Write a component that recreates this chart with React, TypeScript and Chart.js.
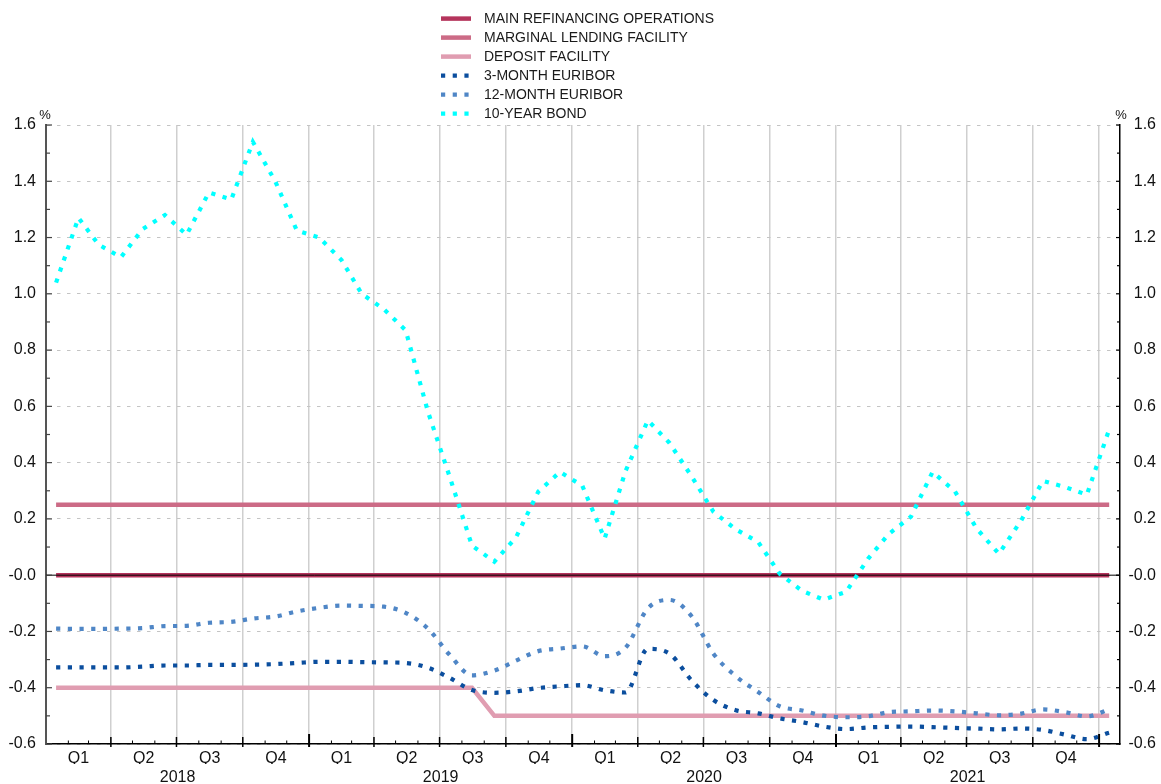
import React, { useEffect, useRef } from 'react';
import { Chart, registerables } from 'chart.js';

Chart.register(...registerables);

// ---------- DATA ----------
const MONTHS = [
  '2018-01', '2018-02', '2018-03', '2018-04', '2018-05', '2018-06', '2018-07', '2018-08', '2018-09', '2018-10', '2018-11', '2018-12',
  '2019-01', '2019-02', '2019-03', '2019-04', '2019-05', '2019-06', '2019-07', '2019-08', '2019-09', '2019-10', '2019-11', '2019-12',
  '2020-01', '2020-02', '2020-03', '2020-04', '2020-05', '2020-06', '2020-07', '2020-08', '2020-09', '2020-10', '2020-11', '2020-12',
  '2021-01', '2021-02', '2021-03', '2021-04', '2021-05', '2021-06', '2021-07', '2021-08', '2021-09', '2021-10', '2021-11', '2021-12',
  '2022-01',
];

const MAIN_REFINANCING = [
  0, 0, 0, 0, 0, 0, 0, 0, 0, 0, 0, 0,
  0, 0, 0, 0, 0, 0, 0, 0, 0, 0, 0, 0,
  0, 0, 0, 0, 0, 0, 0, 0, 0, 0, 0, 0,
  0, 0, 0, 0, 0, 0, 0, 0, 0, 0, 0, 0,
  0,
];

const MARGINAL_LENDING = [
  0.25, 0.25, 0.25, 0.25, 0.25, 0.25, 0.25, 0.25, 0.25, 0.25, 0.25, 0.25,
  0.25, 0.25, 0.25, 0.25, 0.25, 0.25, 0.25, 0.25, 0.25, 0.25, 0.25, 0.25,
  0.25, 0.25, 0.25, 0.25, 0.25, 0.25, 0.25, 0.25, 0.25, 0.25, 0.25, 0.25,
  0.25, 0.25, 0.25, 0.25, 0.25, 0.25, 0.25, 0.25, 0.25, 0.25, 0.25, 0.25,
  0.25,
];

const DEPOSIT_FACILITY = [
  -0.4, -0.4, -0.4, -0.4, -0.4, -0.4, -0.4, -0.4, -0.4, -0.4, -0.4, -0.4,
  -0.4, -0.4, -0.4, -0.4, -0.4, -0.4, -0.4, -0.4, -0.5, -0.5, -0.5, -0.5,
  -0.5, -0.5, -0.5, -0.5, -0.5, -0.5, -0.5, -0.5, -0.5, -0.5, -0.5, -0.5,
  -0.5, -0.5, -0.5, -0.5, -0.5, -0.5, -0.5, -0.5, -0.5, -0.5, -0.5, -0.5,
  -0.5,
];

const EURIBOR_3M = [
  -0.328, -0.328, -0.328, -0.328, -0.325, -0.321, -0.321, -0.319, -0.319, -0.318, -0.316, -0.312,
  -0.308, -0.308, -0.309, -0.31, -0.312, -0.329, -0.365, -0.408, -0.418, -0.413, -0.401, -0.395,
  -0.391, -0.409, -0.417, -0.262, -0.279, -0.375, -0.444, -0.48, -0.491, -0.509, -0.522, -0.538,
  -0.547, -0.541, -0.539, -0.538, -0.54, -0.543, -0.545, -0.548, -0.545, -0.55, -0.567, -0.583,
  -0.56,
];

const EURIBOR_12M = [
  -0.19, -0.191, -0.191, -0.19, -0.188, -0.181, -0.18, -0.169, -0.166, -0.154, -0.147, -0.129,
  -0.116, -0.108, -0.109, -0.112, -0.134, -0.19, -0.283, -0.356, -0.339, -0.304, -0.27, -0.261,
  -0.253, -0.288, -0.258, -0.118, -0.088, -0.147, -0.279, -0.359, -0.415, -0.466, -0.481, -0.499,
  -0.505, -0.501, -0.487, -0.484, -0.481, -0.484, -0.491, -0.498, -0.492, -0.477, -0.487, -0.502,
  -0.477,
];

const BOND_10Y = [
  1.04, 1.27, 1.175, 1.13, 1.23, 1.28, 1.21, 1.36, 1.335, 1.54, 1.4, 1.225,
  1.2, 1.12, 1.0, 0.945, 0.87, 0.58, 0.35, 0.105, 0.048, 0.134, 0.297, 0.367,
  0.318, 0.13, 0.37, 0.55, 0.47, 0.35, 0.225, 0.163, 0.118, 0.005, -0.056, -0.087,
  -0.059, 0.06, 0.146, 0.208, 0.367, 0.298, 0.166, 0.076, 0.195, 0.335, 0.313, 0.286,
  0.518,
];

const YEARS = ['2018', '2019', '2020', '2021'];
const QUARTERS = ['Q1', 'Q2', 'Q3', 'Q4'];

const SERIES = [
  { label: 'MAIN REFINANCING OPERATIONS', values: MAIN_REFINANCING, color: '#b5345c', dotted: false },
  { label: 'MARGINAL LENDING FACILITY', values: MARGINAL_LENDING, color: '#cc6b86', dotted: false },
  { label: 'DEPOSIT FACILITY', values: DEPOSIT_FACILITY, color: '#e09db1', dotted: false },
  { label: '3-MONTH EURIBOR', values: EURIBOR_3M, color: '#0b4e9e', dotted: true },
  { label: '12-MONTH EURIBOR', values: EURIBOR_12M, color: '#4f86c6', dotted: true },
  { label: '10-YEAR BOND', values: BOND_10Y, color: '#00ffff', dotted: true },
];

// ---------- HELPERS ----------
const DAY0 = Date.UTC(2018, 0, 1);
const dayOf = (y: number, m: number, d: number) => (Date.UTC(y, m, d) - DAY0) / 864e5;
const monthDay = (s: string) => {
  const [y, m] = s.split('-').map(Number);
  return dayOf(y, m - 1, 15);
};

const X_MIN = 0;
const X_MAX = 1490;
const FONT = '"Liberation Sans", Arial, Helvetica, sans-serif';
const DOTS = [4.2, 7.5];

const quarterBounds: number[] = [];
const quarterMids: number[] = [];
const quarterLabels: string[] = [];
const yearMids: number[] = [];
YEARS.forEach((ys) => {
  const y = Number(ys);
  for (let q = 0; q < 4; q++) {
    const s = dayOf(y, q * 3, 1);
    const e = dayOf(y, q * 3 + 3, 1);
    quarterBounds.push(e);
    quarterMids.push((s + e) / 2);
    quarterLabels.push(QUARTERS[q]);
  }
  yearMids.push((dayOf(y, 0, 1) + dayOf(y + 1, 0, 1)) / 2);
});

const fmtY = (v: number) => (Math.abs(v) < 1e-9 ? '-0.0' : v.toFixed(1));

const decorPlugin = {
  id: 'decor',
  afterDatasetDraw(chart: any, args: any) {
    if (args.index !== 0) return;
    const { ctx, chartArea } = chart;
    const py = chart.scales.y.getPixelForValue(0);
    ctx.save();
    ctx.strokeStyle = '#000';
    ctx.lineWidth = 1;
    ctx.beginPath();
    ctx.moveTo(chartArea.left, py);
    ctx.lineTo(chartArea.right, py);
    ctx.stroke();
    ctx.restore();
  },
  afterDraw(chart: any) {
    const { ctx, chartArea } = chart;
    const { left, right, top, bottom } = chartArea;
    const ys = chart.scales.y;
    const xs = chart.scales.x;
    ctx.save();
    // inner y ticks
    for (let k = -6; k <= 16; k++) {
      const py = ys.getPixelForValue(k / 10);
      const major = k % 2 === 0;
      ctx.strokeStyle = '#444';
      ctx.lineWidth = 1.2;
      ctx.beginPath();
      ctx.moveTo(left, py);
      ctx.lineTo(left + (major ? 6 : 4), py);
      ctx.stroke();
      ctx.strokeStyle = '#000';
      ctx.beginPath();
      ctx.moveTo(right, py);
      ctx.lineTo(right - (major ? 4 : 3), py);
      ctx.stroke();
    }
    // inner x ticks at months
    ctx.strokeStyle = '#000';
    YEARS.concat(['2022']).forEach((ysr) => {
      const y = Number(ysr);
      for (let m = 0; m < 12; m++) {
        if (y === 2018 && m === 0) continue;
        if (y === 2022 && m > 0) break;
        const px = xs.getPixelForValue(dayOf(y, m, 1));
        let len = 3.5;
        let w = 1;
        if (m === 0) { len = 10; w = 2; } else if (m % 3 === 0) { len = 7; w = 1.5; }
        ctx.lineWidth = w;
        ctx.beginPath();
        ctx.moveTo(px, bottom - len);
        ctx.lineTo(px, bottom + (m % 3 === 0 ? 3 : 0));
        ctx.stroke();
      }
    });
    // % labels
    ctx.fillStyle = '#111';
    ctx.font = `13px ${FONT}`;
    ctx.textAlign = 'center';
    ctx.textBaseline = 'middle';
    ctx.fillText('%', left - 1, top - 10);
    ctx.fillText('%', right + 1, top - 10);
    // legend
    const ds = chart.data.datasets;
    ds.forEach((d: any, i: number) => {
      const ry = 18.6 + 19 * i;
      ctx.save();
      ctx.strokeStyle = d.borderColor;
      ctx.lineWidth = d.borderWidth;
      ctx.lineCap = 'butt';
      ctx.setLineDash(d.borderDash || []);
      ctx.beginPath();
      ctx.moveTo(441, ry);
      ctx.lineTo(471, ry);
      ctx.stroke();
      ctx.restore();
      ctx.fillStyle = '#1a1a1a';
      ctx.font = `14px ${FONT}`;
      ctx.textAlign = 'left';
      ctx.textBaseline = 'middle';
      ctx.fillText(d.label, 484, ry + 0.5);
    });
    ctx.restore();
  },
};

export default function App() {
  const ref = useRef<HTMLCanvasElement | null>(null);
  useEffect(() => {
    if (!ref.current) return;
    Chart.defaults.font.family = FONT;
    Chart.defaults.color = '#111';
    const datasets = SERIES.map((s, i) => ({
      label: s.label,
      data: MONTHS.map((m, j) => ({ x: monthDay(m), y: s.values[j] })),
      borderColor: s.color,
      backgroundColor: s.color,
      borderWidth: s.dotted ? 4.2 : 4.5,
      borderDash: s.dotted ? DOTS : [],
      borderCapStyle: 'butt' as const,
      pointRadius: 0,
      fill: false,
      tension: 0,
      cubicInterpolationMode: (i === 3 || i === 4 ? 'monotone' : 'default') as any,
      order: 6 - i,
      xAxisID: 'x',
      yAxisID: 'y',
    }));
    const chart = new Chart(ref.current, {
      type: 'line',
      data: { datasets },
      plugins: [decorPlugin],
      options: {
        animation: false,
        responsive: false,
        devicePixelRatio: 1,
        events: [],
        layout: { padding: { top: 125, left: 0, right: 5, bottom: 0 } },
        plugins: { legend: { display: false }, tooltip: { enabled: false }, title: { display: false } },
        scales: {
          x: {
            type: 'linear', position: 'bottom', min: X_MIN, max: X_MAX, weight: 0,
            afterBuildTicks: (s: any) => { s.ticks = quarterBounds.map((v) => ({ value: v })); },
            afterFit: (s: any) => { s.height = 0; },
            grid: { color: '#cfcfcf', lineWidth: 1.5, drawTicks: false },
            border: { display: true, color: '#000', width: 1.5 },
            ticks: { display: false },
          },
          xq: {
            type: 'linear', position: 'bottom', min: X_MIN, max: X_MAX, weight: 1,
            afterBuildTicks: (s: any) => { s.ticks = quarterMids.map((v) => ({ value: v })); },
            afterFit: (s: any) => { s.height = 20; },
            grid: { display: false, drawTicks: false },
            border: { display: false },
            ticks: {
              autoSkip: false, maxRotation: 0, padding: 5, color: '#111',
              font: { size: 16, family: FONT },
              callback: (_v: any, i: number) => quarterLabels[i],
            },
          },
          xy: {
            type: 'linear', position: 'bottom', min: X_MIN, max: X_MAX, weight: 2,
            afterBuildTicks: (s: any) => { s.ticks = yearMids.map((v) => ({ value: v })); },
            afterFit: (s: any) => { s.height = 20; },
            grid: { display: false, drawTicks: false },
            border: { display: false },
            ticks: {
              autoSkip: false, maxRotation: 0, padding: 4.4, color: '#111',
              font: { size: 16, family: FONT },
              callback: (_v: any, i: number) => YEARS[i],
            },
          },
          y: {
            type: 'linear', position: 'left', min: -0.6, max: 1.6,
            afterFit: (s: any) => { s.width = 46; },
            grid: { color: '#c4c4c4', lineWidth: 1, drawTicks: false },
            border: { display: true, color: '#555', width: 2, dash: [3.5, 6.5] },
            ticks: {
              stepSize: 0.2, padding: 10, color: '#111', autoSkip: false,
              font: { size: 16, family: FONT },
              callback: (v: any) => fmtY(Number(v)),
            },
          },
          y2: {
            type: 'linear', position: 'right', min: -0.6, max: 1.6,
            afterFit: (s: any) => { s.width = 36; },
            grid: { drawOnChartArea: false, drawTicks: false },
            border: { display: true, color: '#000', width: 1.5 },
            ticks: {
              stepSize: 0.2, padding: 5, crossAlign: 'far', color: '#111', autoSkip: false,
              font: { size: 16, family: FONT },
              callback: (v: any) => fmtY(Number(v)),
            },
          },
        },
      } as any,
    });
    return () => chart.destroy();
  }, []);
  return (
    <div style={{ position: 'absolute', left: 0, top: 0, width: 1161, height: 784, background: '#fff' }}>
      <canvas ref={ref} width={1161} height={784} style={{ display: 'block' }} />
    </div>
  );
}
